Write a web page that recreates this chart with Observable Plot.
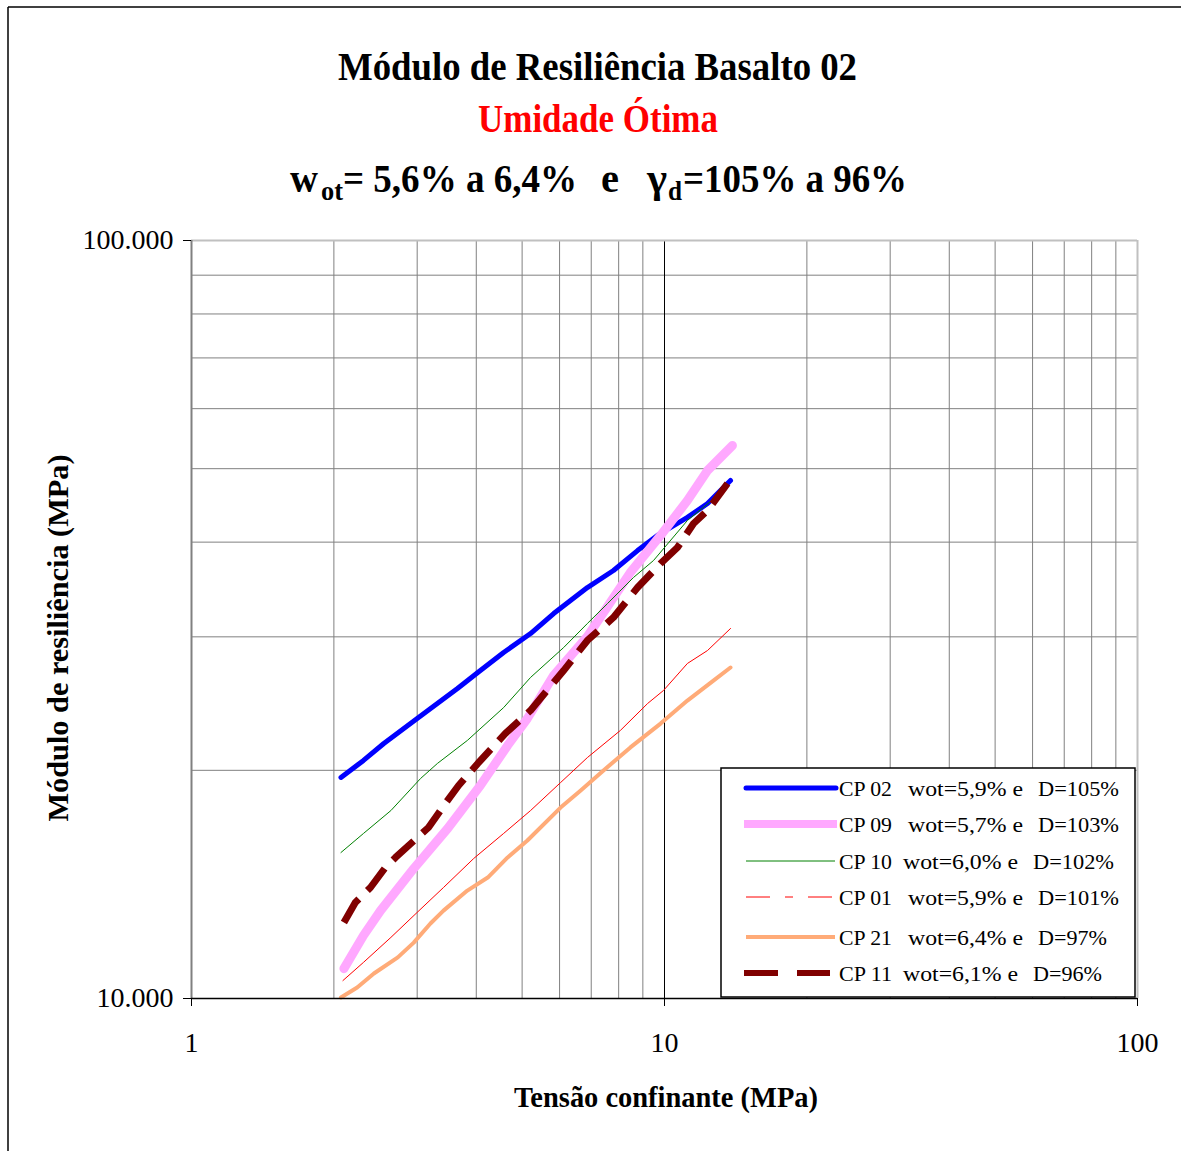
<!DOCTYPE html>
<html>
<head>
<meta charset="utf-8">
<script src="https://cdn.jsdelivr.net/npm/d3@7"></script>
<script src="https://cdn.jsdelivr.net/npm/@observablehq/plot@0.6"></script>
<style>
  html, body { margin: 0; padding: 0; background: white; overflow: hidden; }
  #chart { position: relative; width: 1181px; height: 1151px; }
</style>
</head>
<body>
<div id="chart"></div>
<script>
// ---- Data ----
const cp02X = [2.07, 2.31, 2.55, 3.00, 3.65, 4.03, 4.57, 5.21, 5.83, 6.87, 7.80, 8.77, 9.66, 11.18, 12.33, 13.79];
const cp02Y = [19570, 20610, 21700, 23410, 25640, 26920, 28610, 30300, 32200, 34840, 36700, 38990, 40820, 43120, 44980, 48240];

const cp09X = [2.10, 2.31, 2.51, 2.95, 3.48, 4.08, 4.66, 5.13, 5.83, 6.87, 8.47, 9.81, 11.18, 12.33, 13.92];
const cp09Y = [10950, 12110, 13060, 14840, 16760, 19100, 21570, 23410, 26680, 30030, 36480, 40820, 45390, 49730, 53650];

const cp10X = [2.07, 2.31, 2.64, 3.05, 3.31, 3.83, 4.57, 5.21, 6.12, 6.87, 7.58, 8.60, 9.48, 11.18, 13.59];
const cp10Y = [15580, 16510, 17700, 19510, 20420, 21900, 24200, 26520, 29040, 31240, 33200, 35930, 37830, 42720, 47220];

const cp01X = [2.09, 2.31, 2.64, 3.00, 3.41, 3.95, 4.57, 5.21, 6.03, 6.87, 8.07, 9.21, 9.95, 11.18, 12.33, 13.79];
const cp01Y = [10560, 11160, 12040, 12990, 14010, 15300, 16510, 17700, 19270, 20790, 22580, 24500, 25490, 27670, 28780, 30770];

const cp21X = [2.07, 2.24, 2.43, 2.73, 2.95, 3.20, 3.41, 3.83, 4.23, 4.66, 5.13, 6.03, 6.65, 7.43, 8.47, 9.81, 11.18, 12.69, 13.79];
const cp21Y = [10030, 10340, 10790, 11330, 11850, 12560, 13060, 13880, 14440, 15350, 16160, 17860, 18810, 19990, 21440, 23050, 24720, 26270, 27330];

const cp11X = [2.10, 2.22, 2.39, 2.57, 2.70, 3.17, 3.44, 3.67, 4.03, 4.61, 5.21, 6.12, 6.87, 7.80, 8.77, 9.81, 10.65, 11.52, 12.33, 13.59];
const cp11Y = [12600, 13390, 14010, 14890, 15350, 16810, 18080, 19100, 20420, 22370, 23990, 27080, 29670, 31820, 34850, 37490, 39360, 42330, 44040, 47800];

const seriesNames = ["CP 02", "CP 09", "CP 10", "CP 01", "CP 21", "CP 11"];
const seriesW = ["wot=5,9% e", "wot=5,7% e", "wot=6,0% e", "wot=5,9% e", "wot=6,4% e", "wot=6,1% e"];
const seriesD = ["D=105%", "D=103%", "D=102%", "D=101%", "D=97%", "D=96%"];

const xTicks = [1, 10, 100];
const yTicks = [10000, 100000];
const gridX = [2, 3, 4, 5, 6, 7, 8, 9, 20, 30, 40, 50, 60, 70, 80, 90];
const gridY = [20000, 30000, 40000, 50000, 60000, 70000, 80000, 90000];

// ---- Build tables ----
const toRows = (xs, ys) => xs.map((x, i) => ({x, y: ys[i]}));
const d02 = toRows(cp02X, cp02Y), d09 = toRows(cp09X, cp09Y), d10 = toRows(cp10X, cp10Y);
const d01 = toRows(cp01X, cp01Y), d21 = toRows(cp21X, cp21Y), d11 = toRows(cp11X, cp11Y);

const styles = [
  {color: "#0000ff", width: 5, data: d02},
  {color: "#ffa8ff", width: 9, data: d09},
  {color: "#008000", width: 1, data: d10},
  {color: "#ff0000", width: 1, data: d01},
  {color: "#ffab78", width: 4, data: d21},
  {color: "#800000", width: 7, data: d11, dash: "28,12"}
];

const fmt = d => d3.format(",")(d).replace(/,/g, ".") ;
const FONT = "Liberation Serif, Times New Roman, serif";

const chart = Plot.plot({
  width: 1181,
  height: 1151,
  marginLeft: 191,
  marginRight: 44,
  marginTop: 240,
  marginBottom: 153,
  x: {type: "log", domain: [1, 100]},
  y: {type: "log", domain: [10000, 100000]},
  style: {fontFamily: FONT, background: "white", color: "black"},
  marks: [
    Plot.ruleX(gridX, {stroke: "#808080", strokeWidth: 1}),
    Plot.ruleY(gridY, {stroke: "#808080", strokeWidth: 1}),
    Plot.ruleX([10], {stroke: "black", strokeWidth: 1}),
    Plot.ruleX([100], {stroke: "#c0c0c0", strokeWidth: 2}),
    Plot.ruleY([100000], {stroke: "#c0c0c0", strokeWidth: 2}),
    Plot.ruleX([1], {stroke: "#808080", strokeWidth: 2}),
    ...styles.map(s => Plot.line(s.data, {
      x: "x", y: "y", stroke: s.color, strokeWidth: s.width,
      strokeDasharray: s.dash, strokeLinejoin: "round", strokeLinecap: s.dash ? "butt" : "round"
    })),
    Plot.ruleY([10000], {stroke: "black", strokeWidth: 1.5}),
    Plot.axisX({ticks: xTicks, tickSize: 8, tickPadding: 26, fontSize: 28, tickFormat: d => String(d), label: null}),
    Plot.axisY({ticks: yTicks, tickSize: 8, tickPadding: 10, fontSize: 28, tickFormat: fmt, label: null})
  ]
});

document.getElementById("chart").appendChild(chart);

// ---- Annotations: frame, titles, axis labels, legend ----
const svg = d3.select(chart);
const g = svg.append("g").attr("font-family", FONT);

g.append("line").attr("x1", 8).attr("y1", 7).attr("x2", 1181).attr("y2", 7).attr("stroke", "black").attr("stroke-width", 1.5);
g.append("line").attr("x1", 8).attr("y1", 7).attr("x2", 8).attr("y2", 1151).attr("stroke", "black").attr("stroke-width", 1.5);

function txt(x, y, s, size, len, opts = {}) {
  const t = g.append("text")
    .attr("x", x).attr("y", y)
    .attr("font-size", size)
    .attr("font-weight", opts.bold ? "bold" : "normal")
    .attr("fill", opts.fill || "black")
    .attr("text-anchor", opts.anchor || "start")
    .text(s);
  if (len) t.attr("textLength", len).attr("lengthAdjust", "spacingAndGlyphs");
  if (opts.transform) t.attr("transform", opts.transform);
  return t;
}

// Titles
txt(338, 80, "Módulo de Resiliência Basalto 02", 40, 519, {bold: true});
txt(478, 132, "Umidade Ótima", 39, 240, {bold: true, fill: "#ff0000"});
txt(290, 192, "w", 40, 28, {bold: true});
txt(321, 200, "ot", 27, 22, {bold: true});
txt(343, 192, "= 5,6% a 6,4%", 40, 234, {bold: true});
txt(601, 192, "e", 40, 18, {bold: true});
txt(647, 192, "γ", 40, 20, {bold: true});
txt(668, 200, "d", 27, 14, {bold: true});
txt(683, 192, "=105% a 96%", 40, 224, {bold: true});

// Axis labels
txt(0, 0, "Módulo de resiliência (MPa)", 30, 367, {bold: true, anchor: "middle", transform: "translate(68,638) rotate(-90)"});
txt(666, 1107, "Tensão confinante (MPa)", 29, 304, {bold: true, anchor: "middle"});

// Legend
g.append("rect").attr("x", 721).attr("y", 768).attr("width", 414).attr("height", 229)
  .attr("fill", "white").attr("stroke", "black").attr("stroke-width", 1.5);
const rowY = [788, 824, 861, 897, 937, 973];
const legendSwatch = [
  {x1: 746, x2: 836, w: 5, cap: "round"},
  {x1: 744, x2: 837, w: 8, cap: "butt"},
  {x1: 746, x2: 835, w: 1, cap: "butt"},
  {x1: 746, x2: 832, w: 1, cap: "butt", dash: "24,15,8,15"},
  {x1: 746, x2: 835, w: 4, cap: "butt"},
  {x1: 744, x2: 830, w: 6, cap: "butt", dash: "34,19"}
];
const wX = [908, 908, 903, 908, 908, 903];
const dX = [1038, 1038, 1033, 1038, 1038, 1033];
const dLen = [81, 81, 81, 81, 69, 69];
seriesNames.forEach((name, i) => {
  const sw = legendSwatch[i];
  const ln = g.append("line").attr("x1", sw.x1).attr("x2", sw.x2).attr("y1", rowY[i]).attr("y2", rowY[i])
    .attr("stroke", styles[i].color).attr("stroke-width", sw.w).attr("stroke-linecap", sw.cap);
  if (sw.dash) ln.attr("stroke-dasharray", sw.dash);
  const base = rowY[i] + 8;
  txt(839, base, name, 21, 53);
  txt(wX[i], base, seriesW[i], 21, 115);
  txt(dX[i], base, seriesD[i], 21, dLen[i]);
});
</script>
</body>
</html>
